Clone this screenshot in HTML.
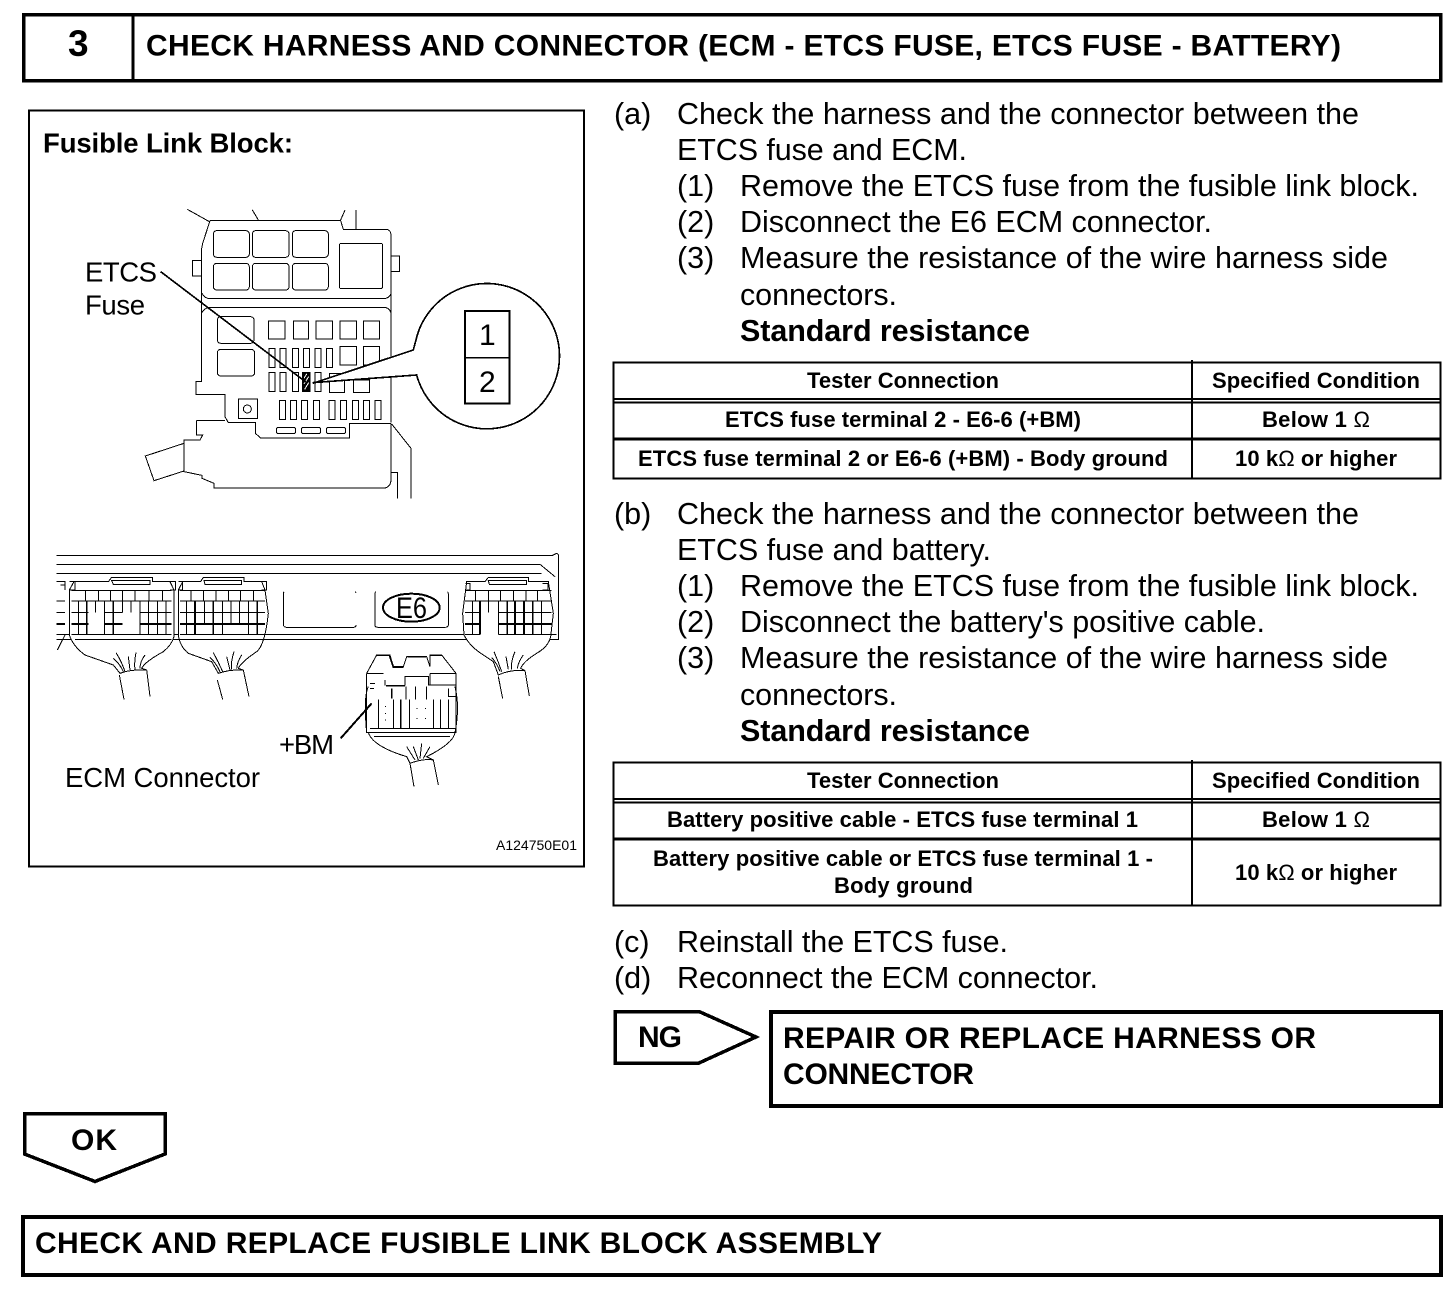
<!DOCTYPE html>
<html lang="en"><head><meta charset="utf-8"><title>Check harness and connector</title>
<style>
html,body{margin:0;padding:0;background:#fff}
svg{display:block;shape-rendering:crispEdges}
text{font-family:"Liberation Sans",Arial,sans-serif;fill:#000}
.b{font-size:30.5px}
.bb{font-size:30.5px;font-weight:bold}
.t{font-size:22px;font-weight:bold}
.h{font-size:30px;font-weight:bold}
.l{font-size:27.5px}
.ln{fill:none;stroke:#000;stroke-width:3}
.th{fill:none;stroke:#000;stroke-width:7}
.w{fill:#fff;stroke:#000;stroke-width:3}
</style></head><body>
<svg xmlns="http://www.w3.org/2000/svg" width="1456" height="1292" viewBox="0 0 1456 1292">
<rect width="1456" height="1292" fill="#fff"/>

<!-- header -->
<rect x="23.5" y="14.5" width="1417" height="66" fill="none" stroke="#000" stroke-width="3.5"/>
<line x1="133" y1="14" x2="133" y2="80" stroke="#000" stroke-width="3"/>
<text x="68" y="56" font-size="37" font-weight="bold">3</text>
<text class="h" x="146" y="55.5" textLength="1195">CHECK HARNESS AND CONNECTOR (ECM - ETCS FUSE, ETCS FUSE - BATTERY)</text>

<!-- figure frame -->
<rect x="29" y="110.5" width="555" height="756" fill="none" stroke="#000" stroke-width="2"/>
<text class="l" font-weight="bold" x="43" y="152.5" textLength="250">Fusible Link Block:</text>
<text class="l" x="85" y="281.5" textLength="72">ETCS</text>
<text class="l" x="85" y="314.5" textLength="60">Fuse</text>
<text class="l" x="279" y="754" textLength="55">+BM</text>
<text class="l" x="65" y="787" textLength="195">ECM Connector</text>
<text font-size="14" x="496" y="850" textLength="81">A124750E01</text>

<!-- fuse block -->
<g transform="translate(130,200) scale(.33333)">
<path class="ln" d="M172 28L240 66M367 30L385 60M645 30L632 60M678 30V88"/>
<path class="ln" d="M240 62H632L640 88H770Q782 90 783 104V668M240 62L218 130L214 150V545H198V583H285V650L295 668H376V700L392 714H658V670H783"/>
<path class="ln" d="M200 662H285M200 662V705H218L210 720H162V815L216 826V835L252 850V864H765Q782 860 783 840V670"/>
<path class="ln" d="M162 730L46 768L72 842L162 813"/>
<path class="ln" d="M785 672L843 745V895M785 818H802V895"/>
<path class="ln" d="M214 182H187V228H214M785 168H808V215H785"/>
<g class="ln">
<rect x="250" y="92" width="108" height="80" rx="10"/><rect x="367" y="92" width="110" height="80" rx="10"/><rect x="487" y="92" width="108" height="80" rx="10"/>
<rect x="250" y="190" width="108" height="80" rx="10"/><rect x="367" y="190" width="110" height="80" rx="10"/><rect x="487" y="190" width="108" height="80" rx="10"/>
<rect x="628" y="130" width="130" height="136" rx="6"/>
<rect x="262" y="350" width="110" height="80" rx="10"/><rect x="262" y="448" width="112" height="80" rx="10"/>
<rect x="415" y="363" width="50" height="54"/><rect x="490" y="363" width="46" height="54"/><rect x="558" y="363" width="49" height="54"/><rect x="630" y="363" width="50" height="54"/><rect x="700" y="363" width="48" height="54"/>
<rect x="630" y="440" width="50" height="55"/><rect x="700" y="440" width="48" height="55"/>
<rect x="417" y="445" width="18" height="57"/><rect x="450" y="445" width="18" height="57"/><rect x="488" y="445" width="18" height="57"/><rect x="520" y="445" width="18" height="57"/><rect x="555" y="445" width="18" height="57"/><rect x="590" y="445" width="18" height="57"/>
<rect x="417" y="518" width="18" height="56"/><rect x="450" y="518" width="18" height="56"/><rect x="488" y="518" width="18" height="56"/><rect x="555" y="518" width="18" height="56"/>
<rect x="598" y="520" width="45" height="58"/><rect x="670" y="540" width="48" height="38"/>
<rect x="325" y="597" width="57" height="58"/><circle cx="352" cy="627" r="12"/>
<rect x="448" y="602" width="18" height="56"/><rect x="482" y="602" width="18" height="56"/><rect x="515" y="602" width="18" height="56"/><rect x="550" y="602" width="18" height="56"/><rect x="597" y="602" width="18" height="56"/><rect x="632" y="602" width="18" height="56"/><rect x="668" y="602" width="18" height="56"/><rect x="700" y="602" width="18" height="56"/><rect x="735" y="602" width="18" height="56"/>
<rect x="440" y="683" width="56" height="17" rx="3"/><rect x="515" y="683" width="56" height="17" rx="3"/><rect x="590" y="683" width="56" height="17" rx="3"/>
</g>
<path class="ln" d="M216 280Q225 296 240 296H765Q780 292 783 280M214 340Q225 322 240 322H765Q780 325 783 340"/>
<rect x="518" y="518" width="22" height="56" fill="#000" stroke="#000" stroke-width="3"/>
<path d="M522 535L530 522M522 552L536 530M524 568L536 548" fill="none" stroke="#fff" stroke-width="3"/>
<path d="M92 215L530 548" fill="none" stroke="#000" stroke-width="5"/>
<path d="M548 550L850 450Q855 430 858 420A218 218 0 1 1 860 525L548 548" fill="#fff" stroke="#000" stroke-width="5"/>
<rect x="1005" y="333" width="133" height="277" fill="#fff" stroke="#000" stroke-width="6"/>
<line x1="1005" y1="473" x2="1138" y2="473" stroke="#000" stroke-width="4"/>
</g>
<text font-size="30" x="479" y="345">1</text>
<text font-size="30" x="479" y="392">2</text>

<!-- ECM panel and connectors 1, 2 -->
<g transform="translate(30,540) scale(.33333)">
<path class="ln" d="M80 46H870M80 73H870M80 100H870M80 283H870M80 299H870"/>
<path class="ln" d="M80 125H105V150M92 135H105V150M80 183H105M80 217H105M105 285L82 330"/>
<path class="th" d="M80 252H105"/>
<!-- connector 1 -->
<path class="w" d="M118 285Q130 320 165 345L250 375L270 400Q300 388 350 390L335 385Q345 365 400 335Q425 315 432 290V150L420 125H367V112H245L235 125H132L118 150Z"/>
<path class="ln" d="M245 122H360V133H250ZM118 125H135V150H118M420 125H436V150H420"/>
<path class="ln" d="M125 152H425M125 183H425M125 217H175M222 217H278M330 217H425M125 283H425M135 299H425"/>
<path class="ln" d="M167 152V183M205 152V183M242 152V183M278 152V183M315 152V183M357 152V183M397 152V183M145 183V283M197 183V217M223 183V283M277 183V217M303 183V217M330 183V283M355 183V283M382 183V283M408 183V283"/>
<path class="th" style="stroke-width:5" d="M170 183V283M250 183V283M125 252H175M222 252H278M330 252H425"/>
<path class="ln" d="M350 390L360 470M268 405L282 478M258 338Q275 365 285 395M250 355Q270 372 280 395M295 350L300 390M318 338Q312 365 315 388M345 345Q330 365 330 385"/>
<!-- connector 2 -->
<path class="w" d="M445 285Q450 320 475 340L545 365L565 400Q600 388 640 390L625 385Q635 365 680 335Q705 315 715 220L705 150L695 125H642V112H520L512 125H458L445 150Z"/>
<path class="ln" d="M522 122H635V133H525ZM445 125H458V150H445M695 125H710V150H695"/>
<path class="ln" d="M450 152H705M450 183H705M450 217H705M450 283H705M445 299H705"/>
<path class="ln" d="M483 152V183M520 152V183M558 152V183M595 152V183M632 152V183M670 152V183M470 183V283M523 183V252M578 183V283M603 183V252M628 183V252M655 183V283"/>
<path class="th" style="stroke-width:5" d="M495 183V283M550 183V283M682 183V283M450 252H705"/>
<path class="ln" d="M640 390L657 470M562 420L578 478M550 338Q565 365 578 395M540 352Q560 372 570 395M590 350L600 390M612 335Q602 365 605 388M635 345Q622 365 620 385"/>
</g>

<!-- E6 area, connector 3, lower connector -->
<g transform="translate(270,540) scale(.33333)">
<path class="ln" d="M0 46H848L860 40Q866 42 866 50V298H0M0 73H810L855 110M0 100H815M0 283H860"/>
<path class="ln" d="M42 155Q40 158 40 165V255Q42 262 50 262H250Q258 262 258 255M255 155L258 158"/>
<path class="ln" d="M318 155Q315 155 315 165V255Q315 262 325 262H525Q535 262 535 255V165Q535 155 532 155"/>
<ellipse cx="424" cy="203" rx="85" ry="42" fill="#fff" stroke="#000" stroke-width="6"/>
<!-- connector 3 -->
<path class="w" d="M582 285Q600 320 640 345L670 365L685 405Q720 388 765 392L752 385Q760 365 800 340Q835 320 842 290L850 220L835 125H775V112H655L645 125H590L578 220Z"/>
<path class="ln" d="M655 122H770V133H658ZM586 130H600V150H586M818 130H834V150H818"/>
<path class="ln" d="M585 152H845M585 183H845M585 217H630M685 217H845M585 283H630M685 283H845"/>
<path class="ln" d="M617 152V183M655 152V183M692 152V183M730 152V183M768 152V183M803 152V183M607 183V283M655 183V217M685 183V283M815 183V283"/>
<path class="th" style="stroke-width:5" d="M630 183V283M712 183V283M735 183V283M762 183V283M788 183V283M585 252H630M685 252H845"/>
<path class="ln" d="M765 392L778 468M685 410L698 475M672 335Q685 365 695 395M665 352Q682 372 690 395M708 350L715 388M735 335Q722 365 725 388M760 345Q745 365 742 385"/>
<!-- lower connector -->
<path class="ln" d="M290 400L320 345H360L370 380H400L410 350H470L480 380V345H515L558 400V578H290V400M290 400H340M480 400H558M480 400V435"/>
<path class="th" style="stroke-width:5" d="M320 346H358L370 381H400M412 350H468M480 346H514"/>
<path class="ln" d="M345 437V420M405 437V410H475V435H558M300 430H315M300 445H312M535 445V470H558"/>
<path class="th" style="stroke-width:5" d="M348 437H405M365 445V475"/>
<path class="ln" d="M408 440V478M437 440V478M470 440V478M325 478V565M370 478V565M418 478V565M490 478V565M512 478V565M535 478V565M300 565H555M312 590H540"/>
<path class="th" style="stroke-width:5" d="M392 478V565"/>
<path d="M345 500h3M345 520h3M345 540h3M440 505h3M465 505h3M440 535h3M465 535h3" stroke="#000" stroke-width="3"/>
<path class="ln" d="M295 440Q280 470 290 578M555 440Q570 500 555 578M295 578Q310 620 410 650L420 670Q460 655 490 660L505 735M420 670L432 740M555 578Q550 610 470 650L490 660M410 620L435 660M430 620L445 660M455 610L450 655M480 620L460 655"/>
<path d="M212 595L305 490" fill="none" stroke="#000" stroke-width="6"/>
</g>
<text font-size="30" x="396" y="618" textLength="31" lengthAdjust="spacingAndGlyphs">E6</text>

<!-- instructions (a) -->
<text class="b" x="614" y="124">(a)</text>
<text class="b" x="677" y="124" textLength="682">Check the harness and the connector between the</text>
<text class="b" x="677" y="160" textLength="290">ETCS fuse and ECM.</text>
<text class="b" x="677" y="196">(1)</text>
<text class="b" x="740" y="196" textLength="679">Remove the ETCS fuse from the fusible link block.</text>
<text class="b" x="677" y="232">(2)</text>
<text class="b" x="740" y="232" textLength="472">Disconnect the E6 ECM connector.</text>
<text class="b" x="677" y="268">(3)</text>
<text class="b" x="740" y="268" textLength="648">Measure the resistance of the wire harness side</text>
<text class="b" x="740" y="305" textLength="157">connectors.</text>
<text class="bb" x="740" y="341" textLength="290">Standard resistance</text>

<!-- table 1 -->
<g fill="none" stroke="#000">
<rect x="613.5" y="362.5" width="827" height="116" stroke-width="2"/>
<path stroke-width="2" d="M613 399H1441M613 402.5H1441M1192 360V479"/>
<path stroke-width="3" d="M613 439H1441"/>
</g>
<text class="t" x="807" y="388" textLength="192">Tester Connection</text>
<text class="t" x="1212" y="388" textLength="208">Specified Condition</text>
<text class="t" x="725" y="427" textLength="356">ETCS fuse terminal 2 - E6-6 (+BM)</text>
<text class="t" x="1262" y="427" textLength="108">Below 1 <tspan font-weight="normal">Ω</tspan></text>
<text class="t" x="638" y="466" textLength="530">ETCS fuse terminal 2 or E6-6 (+BM) - Body ground</text>
<text class="t" x="1235" y="466" textLength="162">10 k<tspan font-weight="normal">Ω</tspan> or higher</text>

<!-- instructions (b) -->
<text class="b" x="614" y="524">(b)</text>
<text class="b" x="677" y="524" textLength="682">Check the harness and the connector between the</text>
<text class="b" x="677" y="560" textLength="314">ETCS fuse and battery.</text>
<text class="b" x="677" y="596">(1)</text>
<text class="b" x="740" y="596" textLength="679">Remove the ETCS fuse from the fusible link block.</text>
<text class="b" x="677" y="632">(2)</text>
<text class="b" x="740" y="632" textLength="525">Disconnect the battery's positive cable.</text>
<text class="b" x="677" y="668">(3)</text>
<text class="b" x="740" y="668" textLength="648">Measure the resistance of the wire harness side</text>
<text class="b" x="740" y="705" textLength="157">connectors.</text>
<text class="bb" x="740" y="741" textLength="290">Standard resistance</text>

<!-- table 2 -->
<g fill="none" stroke="#000">
<rect x="613.5" y="762.5" width="827" height="143" stroke-width="2"/>
<path stroke-width="2" d="M613 799H1441M613 802.5H1441M1192 760V906"/>
<path stroke-width="3" d="M613 839H1441"/>
</g>
<text class="t" x="807" y="788" textLength="192">Tester Connection</text>
<text class="t" x="1212" y="788" textLength="208">Specified Condition</text>
<text class="t" x="667" y="827" textLength="471">Battery positive cable - ETCS fuse terminal 1</text>
<text class="t" x="1262" y="827" textLength="108">Below 1 <tspan font-weight="normal">Ω</tspan></text>
<text class="t" x="653" y="866" textLength="500">Battery positive cable or ETCS fuse terminal 1 -</text>
<text class="t" x="834" y="893" textLength="139">Body ground</text>
<text class="t" x="1235" y="880" textLength="162">10 k<tspan font-weight="normal">Ω</tspan> or higher</text>

<!-- (c) (d) -->
<text class="b" x="614" y="952">(c)</text>
<text class="b" x="677" y="952" textLength="331">Reinstall the ETCS fuse.</text>
<text class="b" x="614" y="988">(d)</text>
<text class="b" x="677" y="988" textLength="421">Reconnect the ECM connector.</text>

<!-- NG -->
<polygon points="615,1011.5 699,1011.5 756,1037 699,1063 615,1063" fill="#fff" stroke="#000" stroke-width="3.5"/>
<text class="h" x="638" y="1047" textLength="44">NG</text>
<rect x="771" y="1012" width="670" height="94" fill="none" stroke="#000" stroke-width="4"/>
<text class="h" x="783" y="1048" textLength="533">REPAIR OR REPLACE HARNESS OR</text>
<text class="h" x="783" y="1084" textLength="191">CONNECTOR</text>

<!-- OK -->
<polygon points="24.5,1113.5 165,1113.5 165,1154 95,1181.5 24.5,1154" fill="#fff" stroke="#000" stroke-width="3.5"/>
<text class="h" x="71" y="1150" textLength="46">OK</text>

<!-- bottom box -->
<rect x="23" y="1217" width="1418" height="58" fill="none" stroke="#000" stroke-width="4"/>
<text class="h" x="35" y="1253" textLength="847">CHECK AND REPLACE FUSIBLE LINK BLOCK ASSEMBLY</text>
</svg>
</body></html>
